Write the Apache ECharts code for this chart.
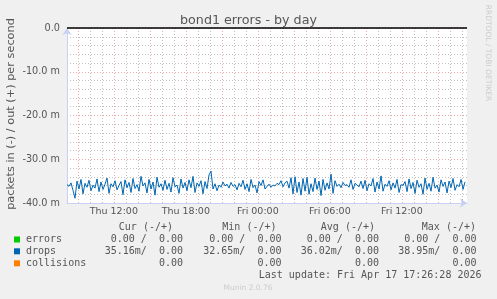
<!DOCTYPE html>
<html><head><meta charset="utf-8">
<script src="https://cdn.jsdelivr.net/npm/echarts@6/dist/echarts.min.js"></script>
<style>html,body{margin:0;padding:0;background:#f0f0f0}#c{width:497px;height:299px}</style>
</head><body><div id="c"></div>
<script>
// time axis in hours since Thu 00:00
const axisStartHour = 8.1;
const axisEndHour = 41.43;
const sampleStartHour = 8.1;
const sampleStepHours = 1 / 6; // 10-minute samples
const xLabelHours = [12, 18, 24, 30, 36];
const majorGridHours = [9, 12, 15, 18, 21, 24, 27, 30, 33, 36, 39];
const minorGridHours = [10, 11, 13, 14, 16, 17, 19, 20, 22, 23, 25, 26, 28, 29, 31, 32, 34, 35, 37, 38, 40, 41];
const yTickValues = [0, -10, -20, -30, -40];
// drops, "in" direction (negated), in milli-packets/s
const dropsIn = [
 -35.8,-36.2,-35.4,-37.1,-38.9,-35.0,-36.8,-34.6,-37.9,-35.5,
 -36.4,-34.8,-37.2,-35.9,-36.6,-34.5,-37.4,-35.2,-36.9,-35.7,
 -34.3,-37.8,-35.6,-36.3,-34.9,-37.0,-36.0,-35.1,-38.1,-34.7,
 -36.5,-35.3,-37.6,-34.4,-36.7,-35.8,-37.3,-33.9,-36.1,-35.4,
 -37.7,-34.6,-36.8,-35.2,-38.2,-34.1,-36.4,-35.6,-37.1,-34.8,
 -36.9,-35.5,-37.5,-34.2,-36.3,-35.9,-37.8,-34.5,-36.6,-35.3,
 -37.2,-34.7,-36.5,-33.9,-37.6,-35.4,-36.2,-34.9,-37.9,-35.1,
 -36.7,-33.6,-32.7,-36.8,-35.6,-37.2,-35.9,-36.4,-35.2,-36.1,
 -35.7,-36.6,-35.3,-36.2,-35.8,-37.0,-35.5,-36.3,-34.8,-36.9,
 -35.6,-37.4,-34.6,-36.5,-35.9,-37.7,-35.1,-36.0,-34.7,-36.8,
 -36.2,-35.7,-36.4,-35.9,-36.1,-35.5,-35.8,-34.9,-36.3,-35.4,
 -35.0,-36.6,-34.2,-37.9,-34.0,-37.6,-35.2,-38.2,-34.4,-37.3,
 -34.1,-38.0,-35.6,-37.4,-34.3,-36.9,-35.0,-38.3,-34.6,-37.1,
 -35.4,-36.8,-33.4,-37.8,-34.9,-36.2,-35.7,-36.5,-35.3,-36.0,
 -35.8,-36.4,-34.7,-36.9,-35.5,-35.9,-36.3,-35.0,-36.7,-34.8,
 -37.2,-35.6,-36.1,-34.4,-37.5,-35.2,-36.8,-33.8,-37.3,-35.7,
 -36.2,-34.9,-37.0,-35.4,-36.6,-34.6,-37.6,-35.8,-36.0,-35.1,
 -37.4,-34.5,-36.7,-35.3,-37.8,-34.8,-36.4,-35.6,-38.0,-34.3,
 -36.9,-35.5,-37.3,-34.1,-36.6,-35.9,-37.5,-34.7,-36.2,-35.2,
 -37.7,-35.0,-36.5,-34.4,-37.1,-35.8,-36.3,-34.6,-36.9,-35.16
];
const yAxisTitle = 'packets in (-) / out (+) per second';
const legendNames = ['errors', 'drops', 'collisions'];
const legendColors = ['#00cc00', '#0066b3', '#ff8000'];
const legendHeaders = ['Cur (-/+)', 'Min (-/+)', 'Avg (-/+)', 'Max (-/+)'];
const legendValues = [
  ['0.00 /  0.00', '0.00 /  0.00', '0.00 /  0.00', '0.00 /  0.00'],
  ['35.16m/  0.00', '32.65m/  0.00', '36.02m/  0.00', '38.95m/  0.00'],
  ['0.00', '0.00', '0.00', '0.00']
];
const lastUpdate = 'Last update: Fri Apr 17 17:26:28 2026';

const seriesData = dropsIn.map((v, i) => [sampleStartHour + i * sampleStepHours, v]);

const mono = '"DejaVu Sans Mono", monospace';
const sans = '"DejaVu Sans", sans-serif';
const colRight = [183, 281.5, 379, 476.5];
const headRight = [173, 276.5, 375, 476];
const rowY = [239.5, 251.3, 263.3];

const graphics = [];
graphics.push({type:'text', x:11, y:114, rotation:Math.PI/2, style:{text:yAxisTitle, font:'11.3px ' + sans, fill:'#555', align:'center', verticalAlign:'middle'}});
legendHeaders.forEach((h, j) => graphics.push({type:'text', x: headRight[j], y: 227.5,
  style:{text:h, font:'10px ' + mono, fill:'#555', align:'right', verticalAlign:'middle'}}));
legendNames.forEach((n, i) => {
  graphics.push({type:'rect', shape:{x:14, y:rowY[i]-3, width:6, height:6}, style:{fill:legendColors[i]}});
  graphics.push({type:'text', x:26, y:rowY[i], style:{text:n, font:'10px ' + mono, fill:'#555', verticalAlign:'middle'}});
  legendValues[i].forEach((v, j) => graphics.push({type:'text', x: colRight[j], y: rowY[i],
    style:{text:v, font:'10px ' + mono, fill:'#555', align:'right', verticalAlign:'middle'}}));
});
graphics.push({type:'text', x:481.5, y:275.8, style:{text:lastUpdate, font:'10px ' + mono, fill:'#555', align:'right', verticalAlign:'middle'}});
graphics.push({type:'text', x:248, y:288.5, style:{text:'Munin 2.0.76', font:'7.5px ' + sans, fill:'#cccccc', align:'center', verticalAlign:'middle'}});
graphics.push({type:'text', x:487.5, y:53, rotation:-Math.PI/2, style:{text:'RRDTOOL / TOBI OETIKER', font:'7.5px ' + sans, fill:'#cccccc', align:'center', verticalAlign:'middle'}});

const chart = echarts.init(document.getElementById('c'), null, {renderer:'canvas'});
chart.setOption({
  backgroundColor:'#f0f0f0',
  animation:false,
  title:{text:'bond1 errors - by day', left:'center', top:9,
    textStyle:{fontFamily:sans, fontSize:12.7, fontWeight:'normal', color:'#555'}},
  grid:{left:67, top:28, width:400, height:175, show:true, backgroundColor:'#ffffff', borderWidth:0,
    containLabel:false, outerBoundsMode:'none'},
  xAxis:{type:'value', min:axisStartHour, max:axisEndHour,
    axisLine:{show:true, onZero:false, symbol:['none','arrow'], symbolSize:[7,7], lineStyle:{color:'#c8d0f4', width:1}},
    axisTick:{show:false},
    splitLine:{show:false},
    axisLabel:{customValues:xLabelHours, margin:4, fontFamily:sans, fontSize:9.5, color:'#555',
      formatter:v => (v < 24 ? 'Thu ' : 'Fri ') + String(Math.round(v % 24)).padStart(2,'0') + ':00'}
  },
  yAxis:{type:'value', min:-40, max:0, interval:10,
    axisLine:{show:true, onZero:false, symbol:['none','arrow'], symbolSize:[7,7], lineStyle:{color:'#c8d0f4', width:1}},
    axisTick:{show:false},
    axisLabel:{margin:7, fontFamily:sans, fontSize:9.7, color:'#555',
      formatter:v => v === 0 ? '0.0' : v.toFixed(1) + ' m'},
    splitLine:{show:true, lineStyle:{color:'#eeaaaa', type:[1,2], width:1}},
    minorTick:{show:false, splitNumber:5},
    minorSplitLine:{show:true, lineStyle:{color:'#c0c0c0', type:[1,2], width:1}}
  },
  graphic:graphics,
  series:[
    {type:'line', data:[], z:1, silent:true,
      markLine:{silent:true, symbol:'none', z:1, label:{show:false}, animation:false,
        data: minorGridHours.map(h => ({xAxis:h, lineStyle:{color:'#c0c0c0', type:[1,2], width:1}}))
          .concat(majorGridHours.map(h => ({xAxis:h, lineStyle:{color:'#eeaaaa', type:[1,2], width:1}})))}},
    {type:'line', name:'drops', data:seriesData, z:3, showSymbol:false, symbol:'none',
      lineStyle:{color:'#0066b3', width:1}, itemStyle:{color:'#0066b3'},
      markLine:{silent:true, symbol:'none', z:4, label:{show:false}, animation:false,
        data:[{yAxis:0, lineStyle:{color:'#000000', type:'solid', width:1.5}}]}}
  ]
});
</script></body></html>
